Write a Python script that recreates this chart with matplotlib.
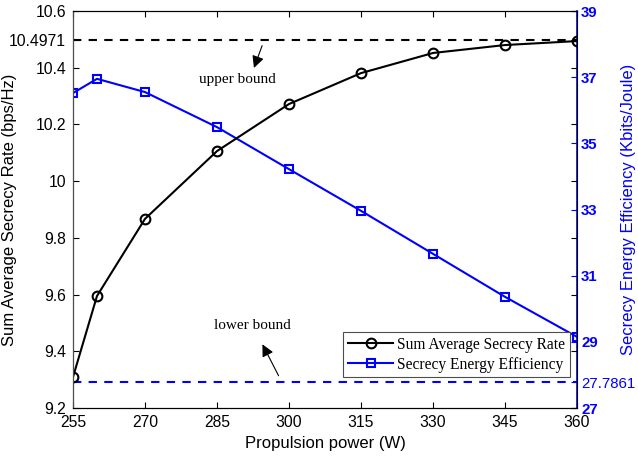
import numpy as np
import matplotlib
matplotlib.use('Agg')
import matplotlib.pyplot as plt

# data
power = [255, 260, 270, 285, 300, 315, 330, 345, 360]
rate = [9.309, 9.595, 9.867, 10.106, 10.272, 10.381, 10.452, 10.480, 10.494]
see = [36.52, 36.95, 36.55, 35.49, 34.22, 32.96, 31.66, 30.36, 29.15]
upper_bound = 10.4971
lower_bound = 27.7861

xticks = [255, 270, 285, 300, 315, 330, 345, 360]
lticks = [9.2, 9.4, 9.6, 9.8, 10.0, 10.2, 10.4, 10.4971, 10.6]
lticklabels = ['9.2', '9.4', '9.6', '9.8', '10', '10.2', '10.4', '10.4971', '10.6']
rticks = [27, 27.7861, 29, 31, 33, 35, 37, 39]
rticklabels = ['27', '27.7861', '29', '31', '33', '35', '37', '39']

plt.rcParams['font.family'] = ['Liberation Sans', 'DejaVu Sans']
plt.rcParams['font.size'] = 11.3

fig = plt.figure(figsize=(6.38, 4.57), dpi=100)
ax = fig.add_axes([0.1144, 0.1072, 0.79, 0.8687])
ax2 = ax.twinx()

l1, = ax.plot(power, rate, '-o', color='k', lw=1.5, ms=7, mfc='none', mew=1.5,
              label='Sum Average Secrecy Rate')
ax.axhline(upper_bound, color='k', ls=(0, (4, 3.5)), lw=1.5)
ax.set_xlim(255, 360)
ax.set_ylim(9.2, 10.6)
ax.set_xticks(xticks)
ax.set_yticks(lticks)
ax.set_yticklabels(lticklabels)
ax.tick_params(direction='in', top=True, right=True, length=4, width=0.8, pad=5)
ax.set_xlabel('Propulsion power (W)', fontsize=12)
ax.set_ylabel('Sum Average Secrecy Rate (bps/Hz)', fontsize=12)
ax.yaxis.set_label_coords(-0.111, 0.5)

l2, = ax2.plot(power, see, '-s', color='b', lw=1.5, ms=6, mfc='none', mew=1.5,
               label='Secrecy Energy Efficiency')
ax2.axhline(lower_bound, color='b', ls=(0, (4, 3.5)), lw=1.5)
ax2.set_ylim(27, 39)
ax2.set_yticks(rticks)
ax2.set_yticklabels(rticklabels)
ax2.tick_params(axis='y', direction='in', colors='b', length=4, width=0.8, pad=3,
                labelsize=10.8)
for lab in ax2.get_yticklabels():
    if lab.get_text() != '27.7861':
        lab.set_fontweight('bold')
ax2.spines['right'].set_color('b')
ax2.spines['right'].set_linewidth(1.2)
ax2.set_ylabel('Secrecy Energy Efficiency (Kbits/Joule)', color='b', fontsize=12)
ax2.yaxis.set_label_coords(1.087, 0.5)

for sp in ['left', 'top', 'bottom']:
    ax.spines[sp].set_linewidth(0.8)
ax.spines['left'].set_color('0.3')

# bound annotations
ax.annotate('', xy=(292.5, 10.39), xytext=(294.6, 10.487),
            arrowprops=dict(arrowstyle='-|>', color='k', lw=0.8, mutation_scale=18))
ax.text(289.2, 10.357, 'upper bound', fontfamily='Liberation Serif', fontsize=11,
        ha='center', va='center')
ax2.annotate('', xy=(294.2, 29.0), xytext=(298.1, 27.9),
             arrowprops=dict(arrowstyle='-|>', color='k', lw=0.8, mutation_scale=18))
ax2.text(292.3, 29.48, 'lower bound', fontfamily='Liberation Serif', fontsize=11,
         ha='center', va='center')

leg = ax.legend([l1, l2], [l1.get_label(), l2.get_label()], loc='lower right',
                bbox_to_anchor=(0.9855, 0.077), prop={'family': 'Liberation Serif', 'size': 11.2},
                fancybox=False, edgecolor='0.3', framealpha=1, borderpad=0.3,
                handlelength=2.9, handletextpad=0.25, labelspacing=0.25, borderaxespad=0)
leg.get_frame().set_linewidth(0.8)
ax.set_zorder(ax2.get_zorder() + 1)
ax.patch.set_visible(False)

fig.savefig('out.png', dpi=100)
